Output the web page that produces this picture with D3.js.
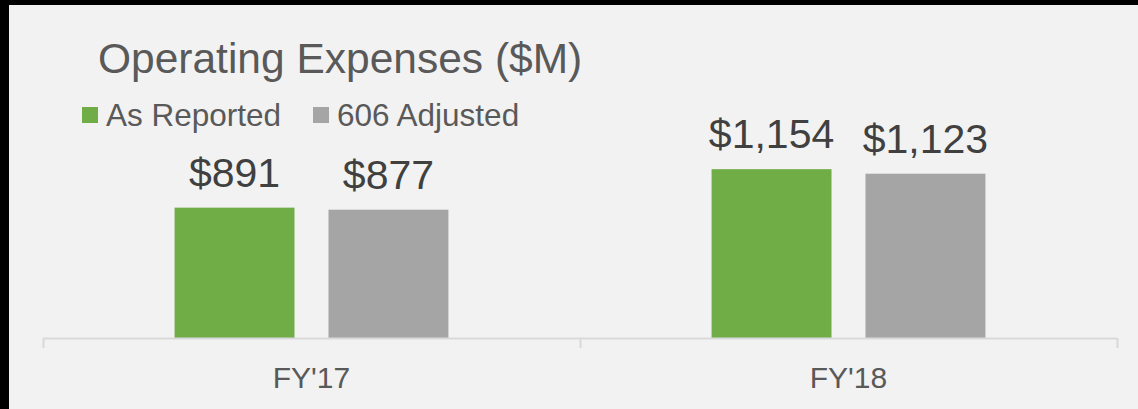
<!DOCTYPE html>
<html>
<head>
<meta charset="utf-8">
<script src="https://cdn.jsdelivr.net/npm/d3@7"></script>
<style>
  html, body { margin: 0; padding: 0; background: #000; }
  svg { display: block; }
  text { font-family: "Liberation Sans", Arial, Helvetica, sans-serif; }
</style>
</head>
<body>
<svg id="chart" width="1138" height="409"></svg>
<script>
// Operating expenses by fiscal year, $M
const categories = ["FY'17", "FY'18"];
const seriesNames = ["As Reported", "606 Adjusted"];
const asReported = [891, 1154];
const adjusted606 = [877, 1123];
const valueLabels = [["$891", "$877"], ["$1,154", "$1,123"]];
const seriesColors = ["#70ad47", "#a5a5a5"];

const W = 1138, H = 409;
const svg = d3.select("#chart");

// light panel on dark backdrop
svg.append("rect").attr("x", 0).attr("y", 0).attr("width", W).attr("height", H).attr("fill", "#000");
svg.append("rect").attr("x", 9).attr("y", 5).attr("width", W - 9).attr("height", H - 5).attr("fill", "#f2f2f2");

const baseY = 338;
const x = d3.scaleBand().domain(categories).range([43, 1117])
  .paddingInner(0.49).paddingOuter(0.245);
const xs = d3.scaleBand().domain(seriesNames).range([0, x.bandwidth()])
  .paddingInner(0.2208).paddingOuter(0);
const y = d3.scaleLinear().domain([0, 1400]).range([baseY, baseY - 1400 * 0.1463]);

const rows = categories.map((c, i) => ({
  cat: c,
  vals: [asReported[i], adjusted606[i]],
  labels: valueLabels[i]
}));

const groups = svg.append("g").selectAll("g").data(rows).join("g")
  .attr("transform", d => `translate(${x(d.cat)},0)`);

groups.selectAll("rect").data(d => d.vals.map((v, j) => ({ v, j, label: d.labels[j] })))
  .join("rect")
  .attr("x", d => xs(seriesNames[d.j]))
  .attr("y", d => y(d.v))
  .attr("width", xs.bandwidth())
  .attr("height", d => y(0) - y(d.v))
  .attr("fill", d => seriesColors[d.j]);

groups.selectAll("text.val").data(d => d.vals.map((v, j) => ({ v, j, label: d.labels[j] })))
  .join("text")
  .attr("class", "val")
  .attr("x", d => xs(seriesNames[d.j]) + xs.bandwidth() / 2)
  .attr("y", d => y(d.v) - 21)
  .attr("text-anchor", "middle")
  .attr("font-size", 41)
  .attr("fill", "#404040")
  .text(d => d.label);

// category axis
const axis = svg.append("g").attr("transform", `translate(0,${baseY})`)
  .call(d3.axisBottom(x).tickSize(0).tickPadding(50));
axis.select(".domain").remove();
axis.selectAll("text")
  .attr("font-size", 30)
  .attr("fill", "#595959")
  .attr("font-family", "Liberation Sans, Arial, sans-serif")
  .attr("dy", null)
  .attr("y", 50);

const [r0, r1] = x.range();
svg.append("line").attr("x1", r0).attr("x2", r1).attr("y1", baseY + 0.5).attr("y2", baseY + 0.5)
  .attr("stroke", "#d9d9d9").attr("stroke-width", 2);
const bounds = d3.range(categories.length + 1).map(i => r0 + i * x.step());
svg.selectAll("line.tick-b").data(bounds).join("line")
  .attr("class", "tick-b")
  .attr("x1", d => Math.round(d) + 0.5).attr("x2", d => Math.round(d) + 0.5)
  .attr("y1", baseY).attr("y2", baseY + 10)
  .attr("stroke", "#d9d9d9").attr("stroke-width", 2);

// title
svg.append("text").attr("x", 98).attr("y", 73)
  .attr("font-size", 42.5).attr("fill", "#595959")
  .text("Operating Expenses ($M)");

// legend
const legendX = [82, 313];
const leg = svg.append("g").selectAll("g").data(seriesNames).join("g")
  .attr("transform", (d, i) => `translate(${legendX[i]},0)`);
leg.append("rect").attr("x", 0).attr("y", 107).attr("width", 16).attr("height", 16)
  .attr("fill", (d, i) => seriesColors[i]);
leg.append("text").attr("x", 24).attr("y", 126)
  .attr("font-size", 31.5).attr("fill", "#595959")
  .text(d => d);
</script>
</body>
</html>
